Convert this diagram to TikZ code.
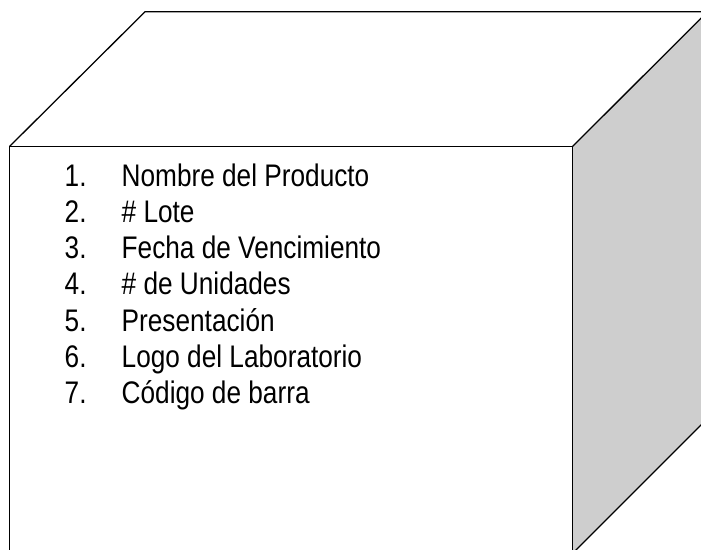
\documentclass[tikz,border=0pt]{standalone}
\usepackage{fontspec}
\setmainfont[FakeStretch=0.84]{Liberation Sans}
\definecolor{sidegray}{RGB}{206,206,206}
\begin{document}
\begin{tikzpicture}[x=1pt,y=-1pt,
  edge/.style={line width=1.3pt,line join=miter},
  itemnum/.style={anchor=base west,inner sep=0pt,font=\fontsize{31.2}{36}\selectfont},
  itemtxt/.style={anchor=base west,inner sep=0pt,font=\fontsize{31.2}{36}\selectfont}]
\useasboundingbox (0,0) rectangle (701,549);
\clip (0,0) rectangle (701,549);
% cube corners
\coordinate (ftl) at (9.5,146.5);
\coordinate (ftr) at (572.5,146.5);
\coordinate (fbl) at (9.5,560);
\coordinate (fbr) at (572.5,553.5);
\coordinate (btl) at (145,11.8);
\coordinate (btr) at (707.5,11.8);
\coordinate (bbr) at (707.5,418.5);
% right face
\fill[sidegray] (ftr) -- (btr) -- (bbr) -- (fbr) -- cycle;
\draw[edge] (ftr) -- (btr);
\draw[edge] (fbr) -- (bbr);
% top face
\draw[edge] (ftl) -- (btl) -- (btr);
% front face
\draw[edge] (fbl) -- (ftl) -- (ftr) -- (fbr);
% list
\foreach \i/\t [count=\k from 0] in {1/Nombre del Producto,2/\# Lote,3/Fecha de Vencimiento,4/\# de Unidades,5/Presentación,6/Logo del Laboratorio,7/Código de barra}{
  \node[itemnum] (n\i) at (64.5,186.2+36.25*\k) {\i.};
  \node[itemtxt] (t\i) at (121.5,186.2+36.25*\k) {\t};
}
\end{tikzpicture}
\end{document}
